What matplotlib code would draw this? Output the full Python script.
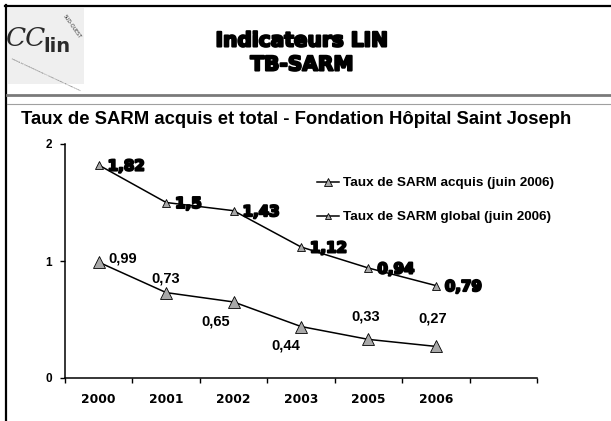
import numpy as np
import matplotlib
matplotlib.use("Agg")
import matplotlib.pyplot as plt
import matplotlib.patheffects as pe
from matplotlib.lines import Line2D
from matplotlib.patches import Rectangle

# data
years = ["2000", "2001", "2002", "2003", "2005", "2006"]
taux_global = [1.82, 1.5, 1.43, 1.12, 0.94, 0.79]
taux_acquis = [0.99, 0.73, 0.65, 0.44, 0.33, 0.27]
lbl_global = ["1,82", "1,5", "1,43", "1,12", "0,94", "0,79"]
lbl_acquis = ["0,99", "0,73", "0,65", "0,44", "0,33", "0,27"]
leg_acquis = "Taux de SARM acquis (juin 2006)"
leg_global = "Taux de SARM global (juin 2006)"

# label offsets in pixels (dx, dy)
off_acquis = [(24, 4), (0, 14), (-18, -20), (-15, -19), (-3, 23), (-3, 28)]
off_global = (9, -1)

W, H = 611, 421
def fx(x):
    return x / W
def fy(y):
    return 1 - y / H

fig = plt.figure(figsize=(W / 100, H / 100), dpi=100)
fig.patch.set_facecolor("white")

# frame and header
fig.add_artist(Line2D([fx(6), fx(6)], [fy(4.5), fy(421)], color="black", lw=1.6))
fig.add_artist(Line2D([fx(5), fx(611)], [fy(5.5), fy(5.5)], color="black", lw=1.6))
fig.add_artist(Line2D([fx(7), fx(611)], [fy(94.7), fy(94.7)], color="#7a7a7a", lw=2.0))
fig.add_artist(Line2D([fx(7), fx(611)], [fy(103.5), fy(103.5)], color="#a0a0a0", lw=0.8))

# logo (rough approximation)
fig.add_artist(Rectangle((fx(8), fy(84)), (84 - 8) / W, (84 - 8) / H,
                         facecolor="#efefef", edgecolor="none", transform=fig.transFigure))
fig.text(fx(26), fy(38), "CC", fontsize=19, family="DejaVu Serif", style="italic",
         color="#2a2a2a", ha="center", va="center")
fig.text(fx(57), fy(47), "lin", fontsize=14, family="Liberation Sans Narrow",
         fontweight="bold", color="#2a2a2a", ha="center", va="center")
fig.text(fx(72), fy(27), "SUD-OUEST", fontsize=3.4, color="#333333", rotation=-55,
         ha="center", va="center")
fig.text(fx(46), fy(74), "CENTRE DE COORDINATION DE LA LUTTE CONTRE LES INFECTIONS",
         fontsize=1.6, color="#333333", rotation=-25, ha="center", va="center")

heavy = [pe.withStroke(linewidth=1.5, foreground="black")]
fig.text(fx(302), fy(41), "Indicateurs LIN", fontsize=14.5, fontweight="bold",
         family="DejaVu Sans", ha="center", va="center", path_effects=heavy)
fig.text(fx(302), fy(65), "TB-SARM", fontsize=14.5, fontweight="bold",
         family="DejaVu Sans", ha="center", va="center", path_effects=heavy)

fig.text(fx(21), fy(124), "Taux de SARM acquis et total - Fondation Hôpital Saint Joseph",
         fontsize=13.3, fontweight="bold", family="Liberation Sans", ha="left",
         va="baseline")

# chart
ax = fig.add_axes([fx(65), fy(378), (537 - 65) / W, (378 - 144) / H])
ax.set_facecolor("none")
x = np.arange(len(years)) + 0.5

ax.plot(x, taux_global, color="black", lw=1.1, marker="^", ms=6.2,
        mfc="#a8a8a8", mec="black", mew=0.6, label=leg_global, zorder=3)
ax.plot(x, taux_acquis, color="black", lw=1.1, marker="^", ms=8,
        mfc="#a8a8a8", mec="black", mew=0.6, label=leg_acquis, zorder=3)

for xi, yi, t in zip(x, taux_global, lbl_global):
    ax.annotate(t, (xi, yi), xytext=off_global, textcoords="offset pixels",
                ha="left", va="center", fontsize=10.8, fontweight="bold",
                family="DejaVu Sans", path_effects=heavy, zorder=4)

for xi, yi, t, o in zip(x, taux_acquis, lbl_acquis, off_acquis):
    ax.annotate(t, (xi, yi), xytext=o, textcoords="offset pixels",
                ha="center", va="center", fontsize=10.5, fontweight="bold",
                family="Liberation Sans", zorder=4)

ax.set_xlim(0, 7)
ax.set_ylim(0, 2)
for s in ["top", "right"]:
    ax.spines[s].set_visible(False)
for s in ["left", "bottom"]:
    ax.spines[s].set_linewidth(1.1)

ax.set_xticks(range(8))
ax.set_xticklabels([""] * 8)
ax.set_xticks(x, minor=True)
ax.set_xticklabels(years, minor=True, fontsize=8.8, fontweight="bold",
                   family="DejaVu Sans")
ax.tick_params(axis="x", which="major", direction="out", length=3.6, width=1.0)
ax.tick_params(axis="x", which="minor", length=0, pad=11)

ax.set_yticks([0, 1, 2])
ax.set_yticklabels(["0", "1", "2"], fontsize=8.5, fontweight="bold",
                   family="Liberation Sans")
ax.tick_params(axis="y", direction="out", length=3.6, width=1.0, pad=6)

handles, labels = ax.get_legend_handles_labels()
leg = ax.legend(handles[::-1], labels[::-1], loc="upper left",
                bbox_to_anchor=(fx(317), fy(177)), bbox_transform=fig.transFigure,
                frameon=False, borderpad=0, borderaxespad=0, handlelength=1.65,
                handletextpad=0.3, labelspacing=1.6, markerscale=0.8,
                prop={"family": "Liberation Sans", "weight": "bold", "size": 9.7})

fig.savefig("out.png", dpi=100)
